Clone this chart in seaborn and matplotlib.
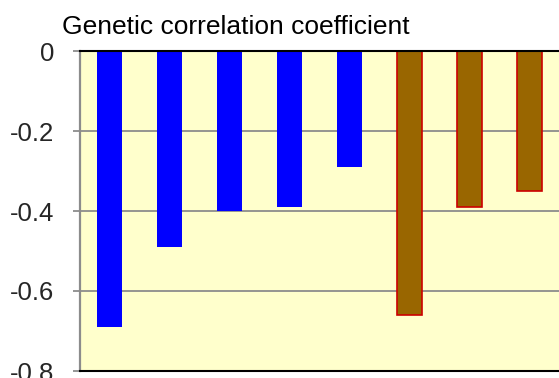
import matplotlib
matplotlib.use("Agg")
import matplotlib.pyplot as plt
import seaborn as sns
import pandas as pd

# Genetic correlation coefficients for eight traits, in two groups
traits = ["T1", "T2", "T3", "T4", "T5", "T6", "T7", "T8"]
coefficients = [-0.69, -0.49, -0.40, -0.39, -0.29, -0.66, -0.39, -0.35]
groups = ["A", "A", "A", "A", "A", "B", "B", "B"]
y_ticks = [0, -0.2, -0.4, -0.6, -0.8]
y_tick_labels = ["0", "-0.2", "-0.4", "-0.6", "-0.8"]

df = pd.DataFrame({"trait": traits, "r": coefficients, "group": groups})

sns.set_theme(style="white")
plt.rcParams["font.family"] = ["Liberation Sans", "DejaVu Sans"]

W, H = 559, 378
fig = plt.figure(figsize=(W / 100, H / 100), dpi=100)
fig.patch.set_facecolor("white")
ax = fig.add_axes([79.5 / W, (H - 371) / H, (559.5 - 79.5) / W, 320 / H])
ax.set_facecolor("#FFFFCC")

palette = {"A": "#0000FF", "B": "#996600"}
sns.barplot(data=df, x="trait", y="r", hue="group", palette=palette,
            dodge=False, width=0.42, legend=False, ax=ax, saturation=1)

for patch, g in zip(ax.patches, groups):
    if g == "B":
        patch.set_edgecolor("#CC0000")
        patch.set_linewidth(1.2)
    else:
        patch.set_edgecolor("none")

ax.set_xlim(-0.5, 7.5)
ax.set_ylim(-0.8, 0)
ax.set_yticks(y_ticks)
ax.set_yticklabels(y_tick_labels, fontsize=18.5)
ax.set_xticks([])
ax.set_xlabel("")
ax.set_ylabel("")

for y in [-0.2, -0.4, -0.6]:
    ax.axhline(y, color="#8C8C8C", lw=1.3, zorder=0)

ax.tick_params(axis="y", direction="out", length=5, width=1.3, color="#8C8C8C",
               pad=13, left=True)
ax.spines["left"].set_color("#8C8C8C")
ax.spines["left"].set_linewidth(1.6)
ax.spines["top"].set_color("black")
ax.spines["top"].set_linewidth(1.5)
ax.spines["bottom"].set_color("black")
ax.spines["bottom"].set_linewidth(1.5)
ax.spines["right"].set_visible(False)

fig.text(62 / W, 1 - 27 / H, "Genetic correlation coefficient", fontsize=19,
         ha="left", va="center", color="black")

fig.savefig("out.png", dpi=100)
